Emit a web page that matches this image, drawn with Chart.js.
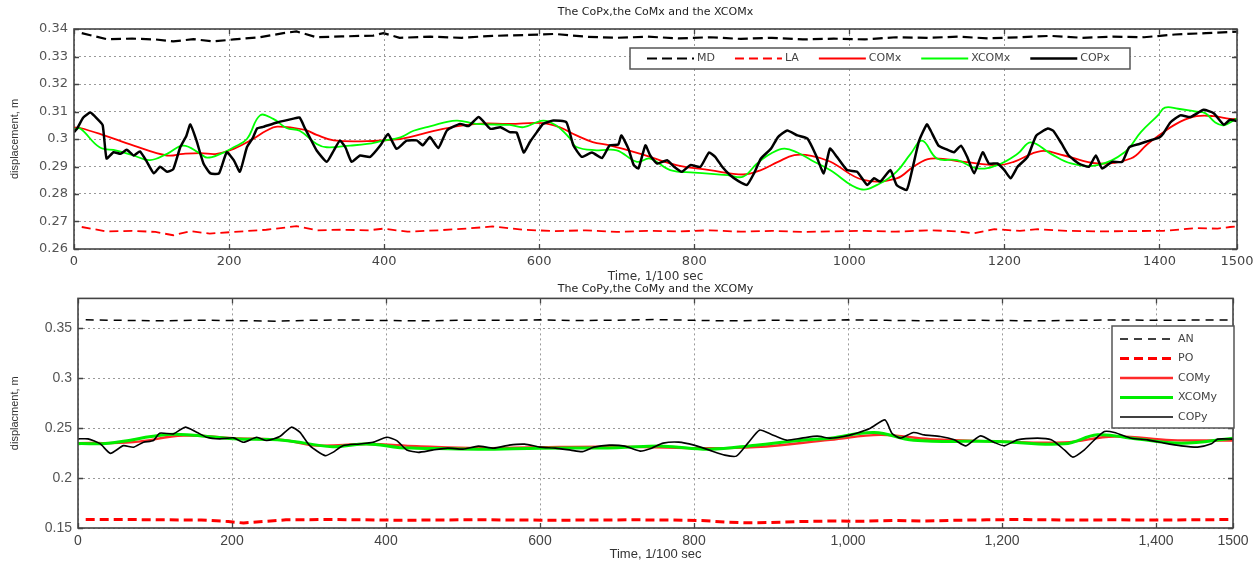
<!DOCTYPE html>
<html><head><meta charset="utf-8">
<script src="https://cdn.jsdelivr.net/npm/chart.js@4.4.1/dist/chart.umd.min.js"></script>
<style>
html,body{margin:0;padding:0;background:#fff;}
#wrap{position:relative;width:1259px;height:562px;overflow:hidden;background:#fff;}
#c1{position:absolute;left:0;top:0;}
#c2{position:absolute;left:0;top:284px;}
</style></head><body>
<div id="wrap"><canvas id="c1" width="1259" height="284"></canvas><canvas id="c2" width="1259" height="278"></canvas></div>
<script>
// ---------- TOP CHART DATA: [time (1/100 s), displacement (m)] ----------
const MD = [[10,0.3385],[42,0.3363],[75,0.3365],[105,0.3362],[128,0.3355],[154,0.3363],[180,0.3355],[206,0.3362],[240,0.3370],[270,0.3385],[287,0.3391],[313,0.3370],[345,0.3373],[386,0.3376],[399,0.3385],[420,0.3368],[460,0.3372],[500,0.3368],[540,0.3375],[580,0.3378],[620,0.3382],[660,0.3372],[700,0.3368],[740,0.3372],[780,0.3366],[820,0.3370],[860,0.3364],[900,0.3368],[940,0.3362],[980,0.3365],[1020,0.3362],[1060,0.3370],[1100,0.3368],[1140,0.3372],[1180,0.3366],[1220,0.3370],[1260,0.3375],[1300,0.3368],[1340,0.3372],[1380,0.3370],[1420,0.3380],[1460,0.3385],[1500,0.3390]];
const LA = [[10,0.2680],[42,0.2664],[75,0.2666],[105,0.2662],[128,0.2650],[150,0.2665],[175,0.2656],[206,0.2662],[248,0.2670],[287,0.2683],[313,0.2668],[345,0.2670],[380,0.2668],[399,0.2674],[430,0.2663],[470,0.2668],[510,0.2675],[540,0.2682],[580,0.2670],[620,0.2665],[660,0.2668],[700,0.2662],[740,0.2666],[780,0.2664],[820,0.2668],[860,0.2663],[900,0.2666],[940,0.2662],[975,0.2664],[1020,0.2666],[1060,0.2663],[1105,0.2668],[1140,0.2664],[1161,0.2657],[1187,0.2672],[1220,0.2666],[1243,0.2672],[1280,0.2666],[1320,0.2664],[1360,0.2665],[1405,0.2666],[1448,0.2676],[1475,0.2674],[1491,0.2680],[1500,0.2682]];
const COMx = [[0,0.3042],[8,0.3040],[37,0.3015],[77,0.2976],[120,0.2940],[141,0.2946],[163,0.2949],[184,0.2946],[206,0.2964],[231,0.3000],[248,0.3030],[262,0.3045],[298,0.3033],[313,0.3015],[335,0.2995],[378,0.2992],[421,0.3000],[433,0.3007],[476,0.3037],[519,0.3055],[562,0.3055],[605,0.3058],[626,0.3043],[648,0.3013],[669,0.2989],[691,0.2977],[734,0.2943],[777,0.2905],[820,0.2887],[863,0.2871],[886,0.2887],[908,0.2917],[929,0.2941],[951,0.2939],[975,0.2918],[1018,0.2851],[1061,0.2857],[1083,0.2900],[1105,0.2929],[1148,0.2917],[1191,0.2905],[1212,0.2917],[1247,0.2956],[1277,0.2940],[1320,0.2911],[1363,0.2929],[1384,0.2980],[1405,0.3025],[1427,0.3063],[1448,0.3083],[1470,0.3083],[1491,0.3073],[1500,0.3073]];
const XCOMx = [[0,0.3035],[8,0.3038],[33,0.2970],[55,0.2958],[77,0.2940],[98,0.2923],[120,0.2946],[141,0.2976],[163,0.2946],[172,0.2932],[189,0.2946],[206,0.2970],[223,0.3000],[240,0.3086],[257,0.3073],[274,0.3040],[291,0.3030],[313,0.2982],[326,0.2970],[356,0.2976],[378,0.2982],[399,0.2994],[421,0.3006],[438,0.3030],[459,0.3046],[493,0.3067],[519,0.3055],[562,0.3051],[580,0.3043],[605,0.3067],[622,0.3049],[640,0.3001],[648,0.2971],[674,0.2959],[700,0.2959],[726,0.2917],[743,0.2929],[769,0.2887],[800,0.2878],[843,0.2869],[863,0.2863],[881,0.2911],[899,0.2947],[916,0.2965],[933,0.2951],[951,0.2923],[975,0.2887],[1014,0.2818],[1040,0.2839],[1061,0.2881],[1079,0.2946],[1094,0.2994],[1113,0.2929],[1139,0.2923],[1165,0.2893],[1191,0.2905],[1217,0.2946],[1234,0.2988],[1260,0.2946],[1286,0.2911],[1320,0.2905],[1355,0.2952],[1376,0.3025],[1398,0.3086],[1407,0.3114],[1424,0.3110],[1446,0.3100],[1459,0.3094],[1472,0.3060],[1483,0.3050],[1500,0.3075]];
const COPx = [[0,0.3025],[4,0.3038],[12,0.3078],[21,0.3096],[30,0.3073],[37,0.3050],[42,0.2929],[51,0.2952],[60,0.2946],[68,0.2961],[77,0.2940],[85,0.2955],[94,0.2917],[103,0.2875],[111,0.2899],[120,0.2881],[128,0.2890],[137,0.2970],[145,0.3012],[150,0.3053],[158,0.2994],[167,0.2911],[176,0.2875],[187,0.2875],[197,0.2952],[206,0.2923],[214,0.2881],[223,0.2970],[231,0.3006],[236,0.3038],[244,0.3044],[262,0.3060],[283,0.3074],[291,0.3078],[298,0.3038],[304,0.3006],[313,0.2958],[326,0.2917],[335,0.2958],[343,0.2994],[350,0.2970],[358,0.2917],[369,0.2940],[382,0.2935],[395,0.2976],[405,0.3018],[416,0.2964],[429,0.2994],[442,0.2995],[450,0.2977],[459,0.3007],[470,0.2967],[481,0.3031],[498,0.3055],[509,0.3047],[522,0.3080],[537,0.3037],[550,0.3043],[562,0.3025],[571,0.3023],[580,0.2951],[588,0.2989],[597,0.3025],[605,0.3055],[618,0.3067],[635,0.3061],[644,0.2977],[655,0.2935],[668,0.2951],[681,0.2931],[691,0.2977],[702,0.2980],[706,0.3013],[715,0.2965],[722,0.2905],[728,0.2893],[737,0.2977],[743,0.2941],[752,0.2911],[765,0.2923],[774,0.2899],[784,0.2881],[795,0.2905],[808,0.2899],[819,0.2951],[827,0.2935],[836,0.2899],[846,0.2869],[857,0.2847],[868,0.2833],[877,0.2875],[886,0.2929],[899,0.2965],[908,0.3007],[920,0.3031],[933,0.3013],[946,0.3001],[957,0.2941],[967,0.2875],[975,0.2965],[984,0.2935],[997,0.2887],[1010,0.2881],[1023,0.2833],[1032,0.2857],[1040,0.2845],[1053,0.2887],[1061,0.2833],[1074,0.2815],[1081,0.2887],[1090,0.2994],[1100,0.3053],[1105,0.3030],[1115,0.2976],[1124,0.2964],[1135,0.2952],[1144,0.2976],[1152,0.2935],[1161,0.2875],[1172,0.2952],[1180,0.2911],[1191,0.2911],[1200,0.2887],[1208,0.2857],[1217,0.2899],[1230,0.2935],[1241,0.3012],[1256,0.3038],[1263,0.3030],[1274,0.2982],[1283,0.2940],[1296,0.2911],[1309,0.2899],[1318,0.2940],[1326,0.2893],[1339,0.2917],[1352,0.2917],[1361,0.2970],[1374,0.2982],[1387,0.2994],[1400,0.3006],[1405,0.3020],[1414,0.3060],[1427,0.3086],[1440,0.3080],[1457,0.3106],[1470,0.3094],[1483,0.3052],[1491,0.3070],[1500,0.3065]];

// ---------- BOTTOM CHART DATA ----------
const AN = [[10,0.3585],[60,0.3580],[110,0.3575],[150,0.3582],[200,0.3578],[260,0.3572],[300,0.3580],[350,0.3585],[400,0.3578],[450,0.3575],[500,0.3582],[550,0.3580],[600,0.3585],[650,0.3578],[700,0.3582],[750,0.3588],[800,0.3580],[850,0.3575],[900,0.3582],[950,0.3578],[1000,0.3585],[1050,0.3580],[1100,0.3576],[1150,0.3582],[1200,0.3578],[1250,0.3575],[1300,0.3580],[1350,0.3585],[1400,0.3580],[1450,0.3583],[1500,0.3585]];
const PO = [[10,0.1585],[60,0.1585],[110,0.1582],[160,0.1580],[195,0.1565],[215,0.1550],[240,0.1565],[270,0.1582],[320,0.1585],[370,0.1582],[420,0.1578],[470,0.1580],[520,0.1583],[570,0.1580],[620,0.1578],[670,0.1580],[720,0.1582],[770,0.1580],[810,0.1575],[840,0.1560],[870,0.1552],[900,0.1555],[940,0.1565],[980,0.1570],[1020,0.1568],[1060,0.1575],[1100,0.1570],[1140,0.1578],[1180,0.1582],[1220,0.1585],[1260,0.1582],[1300,0.1580],[1350,0.1582],[1400,0.1580],[1450,0.1582],[1500,0.1585]];
const COMy = [[0,0.2350],[72,0.2360],[137,0.2426],[202,0.2399],[266,0.2382],[310,0.2326],[375,0.2342],[440,0.2320],[520,0.2300],[600,0.2310],[700,0.2315],[800,0.2300],[880,0.2310],[977,0.2383],[1042,0.2433],[1107,0.2390],[1194,0.2367],[1281,0.2357],[1346,0.2417],[1420,0.2380],[1500,0.2377]];
const XCOMy = [[0,0.2345],[40,0.2350],[115,0.2436],[150,0.2430],[202,0.2395],[266,0.2380],[331,0.2315],[375,0.2342],[418,0.2305],[440,0.2300],[520,0.2290],[600,0.2300],[700,0.2305],[760,0.2320],[820,0.2290],[880,0.2330],[940,0.2380],[977,0.2400],[1034,0.2457],[1085,0.2380],[1194,0.2367],[1281,0.2343],[1324,0.2433],[1368,0.2400],[1433,0.2350],[1500,0.2400]];
const COPy = [[0,0.2393],[13,0.2393],[29,0.2342],[42,0.2248],[59,0.2325],[72,0.2309],[85,0.2359],[98,0.2376],[106,0.2450],[124,0.2443],[139,0.2510],[154,0.2460],[167,0.2409],[184,0.2393],[202,0.2403],[215,0.2359],[232,0.2409],[245,0.2376],[262,0.2416],[277,0.2510],[288,0.2460],[301,0.2325],[321,0.2225],[331,0.2258],[344,0.2325],[366,0.2342],[383,0.2359],[401,0.2409],[414,0.2376],[427,0.2282],[442,0.2258],[460,0.2280],[480,0.2300],[500,0.2290],[520,0.2320],[540,0.2300],[560,0.2330],[580,0.2340],[600,0.2310],[620,0.2300],[640,0.2280],[655,0.2265],[670,0.2310],[690,0.2330],[710,0.2320],[730,0.2270],[745,0.2300],[760,0.2350],[780,0.2360],[800,0.2330],[820,0.2280],[840,0.2230],[855,0.2220],[870,0.2350],[885,0.2480],[900,0.2440],[920,0.2380],[940,0.2400],[960,0.2420],[977,0.2400],[994,0.2417],[1011,0.2450],[1029,0.2500],[1048,0.2583],[1057,0.2450],[1068,0.2400],[1085,0.2457],[1099,0.2433],[1120,0.2417],[1138,0.2383],[1153,0.2323],[1172,0.2423],[1190,0.2357],[1203,0.2323],[1220,0.2383],[1246,0.2400],[1264,0.2383],[1281,0.2283],[1292,0.2210],[1307,0.2283],[1320,0.2383],[1333,0.2467],[1346,0.2457],[1368,0.2400],[1389,0.2383],[1411,0.2350],[1433,0.2323],[1454,0.2310],[1472,0.2343],[1480,0.2390],[1500,0.2390]];

// ---------- TICKS ----------
const xTicks = [0,200,400,600,800,1000,1200,1400,1500];
const xLabelsTop = ['0','200','400','600','800','1000','1200','1400','1500'];
const xLabelsBottom = ['0','200','400','600','800','1,000','1,200','1,400','1500'];
const yTicksTop = [0.26,0.27,0.28,0.29,0.30,0.31,0.32,0.33,0.34];
const yLabelsTop = ['0.26','0.27','0.28','0.29','0.3','0.31','0.32','0.33','0.34'];
const yTicksBottom = [0.15,0.20,0.25,0.30,0.35];
const yLabelsBottom = ['0.15','0.2','0.25','0.3','0.35'];

const pts = arr => arr.map(p => ({x: p[0], y: p[1]}));

// ---------- PLUGINS ----------
const frame = {
  id: 'frame',
  afterDatasetsDraw(chart, args, o) {
    const {ctx, chartArea: a, scales} = chart;
    ctx.save();
    ctx.setLineDash([]);
    ctx.strokeStyle = o.color; ctx.lineWidth = 1.3;
    ctx.beginPath();
    scales.x.ticks.forEach(t => {
      const px = Math.round(scales.x.getPixelForValue(t.value)) + 0.5;
      ctx.moveTo(px, a.bottom); ctx.lineTo(px, a.bottom - o.len);
      ctx.moveTo(px, a.top); ctx.lineTo(px, a.top + o.len);
    });
    scales.y.ticks.forEach(t => {
      const py = Math.round(scales.y.getPixelForValue(t.value)) + 0.5;
      ctx.moveTo(a.left, py); ctx.lineTo(a.left + o.len, py);
      ctx.moveTo(a.right, py); ctx.lineTo(a.right - o.len, py);
    });
    ctx.stroke();
    ctx.lineWidth = o.width;
    ctx.strokeRect(a.left, a.top, a.right - a.left, a.bottom - a.top);
    ctx.restore();
  }
};
const boxLegend = {
  id: 'boxLegend',
  afterDatasetsDraw(chart, args, o) {
    const ctx = chart.ctx, ds = chart.data.datasets;
    ctx.save();
    ctx.fillStyle = '#fff'; ctx.fillRect(o.x, o.y, o.w, o.h);
    ctx.setLineDash([]);
    ctx.strokeStyle = '#555'; ctx.lineWidth = 1.5; ctx.strokeRect(o.x, o.y, o.w, o.h);
    ctx.font = o.font; ctx.textBaseline = 'middle'; ctx.textAlign = 'left';
    let x = o.x + o.padX, y = o.y + o.padY;
    ds.forEach(d => {
      ctx.strokeStyle = d.borderColor; ctx.lineWidth = d.borderWidth;
      ctx.setLineDash(d.borderDash || []);
      ctx.beginPath(); ctx.moveTo(x, y); ctx.lineTo(x + o.lineLen, y); ctx.stroke();
      ctx.setLineDash([]);
      ctx.fillStyle = o.textColor;
      ctx.fillText(d.label, x + o.lineLen + o.textGap, y);
      if (o.horizontal) x += o.lineLen + o.textGap + ctx.measureText(d.label).width + o.itemGap;
      else y += o.rowH;
    });
    ctx.restore();
  }
};
const areaTitle = {
  id: 'areaTitle',
  afterDraw(chart, args, o) {
    const {ctx, chartArea: a} = chart;
    ctx.save();
    ctx.font = o.font; ctx.fillStyle = o.color;
    ctx.textAlign = 'center'; ctx.textBaseline = 'middle';
    ctx.fillText(o.text, (a.left + a.right) / 2, o.y);
    ctx.restore();
  }
};

function line(label, data, color, width, dash, order, tension) {
  return {label, data: pts(data), borderColor: color, backgroundColor: color, borderWidth: width,
    borderDash: dash || [], pointRadius: 0, fill: false, order, tension: tension || 0};
}

function makeOptions(cfg) {
  return {
    responsive: false, animation: false, devicePixelRatio: 1, events: [],
    layout: {padding: {top: cfg.padTop, right: cfg.padRight, left: 0, bottom: 0}},
    plugins: {
      legend: {display: false}, tooltip: {enabled: false},
      frame: {color: '#444', width: 1.6, len: 5},
      boxLegend: cfg.legend,
      areaTitle: cfg.title
    },
    scales: {
      x: {
        type: 'linear', min: 0, max: 1500,
        afterFit(s) { s.height = cfg.xHeight; },
        afterBuildTicks(s) { s.ticks = xTicks.map(v => ({value: v})); },
        ticks: {autoSkip: false, maxRotation: 0, padding: cfg.xTickPad, color: '#444',
          font: cfg.xTickFont, callback: (v, i) => cfg.xLabels[i]},
        grid: {color: '#9a9a9a', lineWidth: 1, drawTicks: false},
        border: {display: false, dash: [2, 3]},
        title: {display: true, text: 'Time, 1/100 sec', color: '#333', font: cfg.xTitleFont, padding: {top: 0, bottom: 0}}
      },
      y: {
        type: 'linear', min: cfg.yMin, max: cfg.yMax,
        afterFit(s) { s.width = cfg.yWidth; },
        afterBuildTicks(s) { s.ticks = cfg.yTicks.map(v => ({value: v})); },
        ticks: {autoSkip: false, padding: 6, color: '#555', font: cfg.yTickFont,
          callback: (v, i) => cfg.yLabels[i]},
        grid: {color: '#9a9a9a', lineWidth: 1, drawTicks: false},
        border: {display: false, dash: [2, 3]},
        title: {display: true, text: cfg.yTitle, color: '#333', font: {family: 'Liberation Sans', size: 11}, padding: {top: 8, bottom: 0}}
      }
    }
  };
}

new Chart(document.getElementById('c1'), {
  type: 'line',
  data: {datasets: [
    line('MD', MD, '#000000', 2.2, [10, 5], 4),
    line('LA', LA, '#ff0000', 1.8, [9, 5], 3),
    line('COMx', COMx, '#ff0000', 1.8, [], 2, 0.4),
    line('XCOMx', XCOMx, '#00ff00', 1.8, [], 1, 0.4),
    line('COPx', COPx, '#000000', 2.5, [], 0, 0.15)
  ]},
  options: makeOptions({
    padTop: 29, padRight: 22, xHeight: 35, yWidth: 74, xTickPad: 5,
    xLabels: xLabelsTop, xTickFont: {family: 'DejaVu Sans', size: 13},
    xTitleFont: {family: 'DejaVu Sans', size: 12},
    yMin: 0.26, yMax: 0.34, yTicks: yTicksTop, yLabels: yLabelsTop,
    yTickFont: {family: 'DejaVu Sans', size: 13},
    yTitle: 'displacement, m',
    legend: {x: 630, y: 48, w: 500, h: 21, padX: 17, padY: 10.5, lineLen: 47, textGap: 3, itemGap: 20,
      horizontal: true, font: '11px "DejaVu Sans"', textColor: '#444'},
    title: {text: 'The CoPx,the CoMx and the XCOMx', y: 12, font: '11px "DejaVu Sans"', color: '#222'}
  }),
  plugins: [frame, boxLegend, areaTitle]
});

new Chart(document.getElementById('c2'), {
  type: 'line',
  data: {datasets: [
    line('AN', AN, '#000000', 1.5, [8, 6], 4),
    line('PO', PO, '#ff0000', 3, [9, 5], 3),
    line('COMy', COMy, '#ff2a2a', 2.4, [], 2, 0.4),
    line('XCOMy', XCOMy, '#00ee00', 3, [], 1, 0.4),
    line('COPy', COPy, '#000000', 1.6, [], 0, 0.2)
  ]},
  options: makeOptions({
    padTop: 14, padRight: 26, xHeight: 34, yWidth: 78, xTickPad: 5,
    xLabels: xLabelsBottom, xTickFont: {family: '"Liberation Sans Narrow", "Liberation Sans"', size: 14},
    xTitleFont: {family: '"Liberation Sans Narrow", "Liberation Sans"', size: 13},
    yMin: 0.15, yMax: 0.38, yTicks: yTicksBottom, yLabels: yLabelsBottom,
    yTickFont: {family: 'Liberation Sans', size: 14},
    yTitle: 'displacment, m',
    legend: {x: 1112, y: 42, w: 122, h: 102, padX: 8, padY: 13, lineLen: 53, textGap: 5, rowH: 19.5,
      horizontal: false, font: '11px "DejaVu Sans"', textColor: '#444'},
    title: {text: 'The CoPy,the CoMy and the XCOMy', y: 5.5, font: '11px "DejaVu Sans"', color: '#222'}
  }),
  plugins: [frame, boxLegend, areaTitle]
});
</script>
</body></html>
